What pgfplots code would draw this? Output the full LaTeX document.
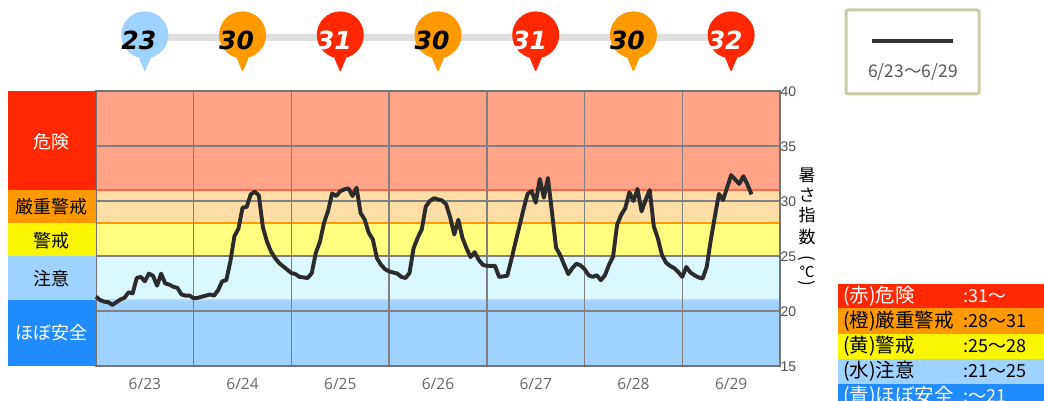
\documentclass[border=0pt]{standalone}
\usepackage{fontspec}
\usepackage{pgfplots}
\usepackage{pgfplotstable}
\pgfplotsset{compat=1.18}
\setmainfont{Noto Sans CJK JP}
\newfontfamily\numfont{Liberation Sans}
\newfontfamily\labfont{Open Sans}
\newfontfamily\pinfont[BoldFont={DejaVu Sans Bold Oblique}]{DejaVu Sans}
\newcommand{\fs}[1]{\fontsize{#1}{#1}\selectfont}
\definecolor{cR}{HTML}{FF2800}
\definecolor{cO}{HTML}{FF9900}
\definecolor{cY}{HTML}{FAF500}
\definecolor{cL}{HTML}{A0D2FF}
\definecolor{cB}{HTML}{218CFF}
\definecolor{bR}{HTML}{FFA488}
\definecolor{bO}{HTML}{FFDDA6}
\definecolor{bY}{HTML}{FFFF80}
\definecolor{bC}{HTML}{D9F8FF}
\definecolor{bB}{HTML}{A0D2FF}
\definecolor{boxc}{HTML}{CCCCAA}
\pgfdeclareplotmark{pin}{%
  \pgfpathcircle{\pgfqpoint{0pt}{0pt}}{23.5pt}\pgfusepathqfill
  \pgfpathmoveto{\pgfqpoint{-6pt}{-23pt}}%
  \pgfpathlineto{\pgfqpoint{6pt}{-23pt}}%
  \pgfpathlineto{\pgfqpoint{0.5pt}{-36pt}}%
  \pgfpathlineto{\pgfqpoint{-0.5pt}{-36pt}}%
  \pgfpathclose\pgfusepathqfill}
\pgfplotstableread{
h v
0 21.3
1 21.0
2 20.85
3 20.8
4 20.55
5 20.8
6 21.05
7 21.2
8 21.7
9 21.6
10 23.0
11 23.1
12 22.7
13 23.4
14 23.2
15 22.3
16 23.4
17 22.5
18 22.4
19 22.2
20 22.1
21 21.5
22 21.4
23 21.4
24 21.15
25 21.2
26 21.3
27 21.4
28 21.5
29 21.4
30 21.9
31 22.7
32 22.8
33 24.5
34 26.8
35 27.5
36 29.4
37 29.45
38 30.6
39 30.85
40 30.5
41 27.6
42 26.3
43 25.4
44 24.8
45 24.35
46 24.05
47 23.75
48 23.45
49 23.35
50 23.1
51 23.05
52 23.0
53 23.45
54 25.3
55 26.3
56 28.0
57 29.1
58 30.7
59 30.45
60 30.9
61 31.05
62 31.15
63 30.45
64 31.2
65 28.9
66 28.3
67 27.1
68 26.5
69 24.8
70 24.2
71 23.8
72 23.6
73 23.5
74 23.4
75 23.1
76 23.0
77 23.45
78 25.7
79 26.65
80 27.4
81 29.5
82 30.0
83 30.25
84 30.15
85 30.05
86 29.7
87 28.5
88 26.95
89 28.3
90 26.65
91 25.7
92 24.9
93 25.35
94 24.65
95 24.2
96 24.1
97 24.1
98 24.1
99 23.1
100 23.15
101 23.2
102 24.65
103 26.2
104 27.7
105 29.25
106 30.65
107 30.9
108 29.85
109 32.0
110 30.3
111 32.1
112 28.95
113 25.75
114 25.1
115 24.2
116 23.35
117 23.9
118 24.3
119 24.15
120 23.8
121 23.25
122 23.1
123 23.25
124 22.8
125 23.25
126 24.2
127 24.95
128 27.85
129 28.75
130 29.35
131 30.8
132 30.0
133 31.1
134 29.05
135 30.1
136 31.0
137 27.7
138 26.6
139 25.1
140 24.4
141 24.1
142 23.9
143 23.55
144 23.1
145 24.0
146 23.5
147 23.25
148 23.05
149 22.95
150 24.0
151 26.45
152 28.6
153 30.65
154 30.1
155 31.2
156 32.35
157 31.95
158 31.55
159 32.25
160 31.5
161 30.6
}\wbgt
\begin{document}
\begin{tikzpicture}[x=1pt,y=1pt]
\path (0,0) rectangle (1044,401);
% left colour column
\fill[cR] (8,211) rectangle (96,310);
\fill[cO] (8,178) rectangle (96,211);
\fill[cY] (8,145) rectangle (96,178);
\fill[cL] (8,101) rectangle (96,145);
\fill[cB] (8,35) rectangle (96,101);
\node[white] at (51,259) {\fs{18}危険};
\node[black] at (51,194) {\fs{18}厳重警戒};
\node[black] at (51,160) {\fs{18}警戒};
\node[black] at (51,122) {\fs{18}注意};
\node[white] at (51,68) {\fs{18}ほぼ安全};
\begin{axis}[
  at={(96pt,35pt)},anchor=south west,
  scale only axis,width=684pt,height=275pt,
  xmin=0,xmax=168,ymin=15,ymax=40,
  clip=false,set layers,
  y axis line style={draw=black!55,line width=1.2pt},
  x axis line style={draw=none},
  xtick={12,36,60,84,108,132,156},
  xticklabels={6/23,6/24,6/25,6/26,6/27,6/28,6/29},
  minor xtick={24,48,72,96,120,144},
  ytick={15,20,25,30,35,40},
  yticklabel pos=right,
  major tick length=0pt,minor tick length=0pt,
  xmajorgrids=false,xminorgrids=true,ymajorgrids=true,
  minor x grid style={draw=black!50,line width=1.3pt},
  major y grid style={draw=black!50,line width=1.3pt},
  /pgf/number format/assume math mode=true,
  xticklabel style={font=\labfont\fs{15.5},text=black!60,yshift=-9pt},
  yticklabel style={font=\numfont\fs{14},text=black!70,xshift=-3pt,yshift=-0.5pt},
]
\addplot[on layer=axis background,fill=bR,draw=none] coordinates {(0,31)(168,31)(168,40)(0,40)} --cycle;
\addplot[on layer=axis background,fill=bO,draw=none] coordinates {(0,28)(168,28)(168,31)(0,31)} --cycle;
\addplot[on layer=axis background,fill=bY,draw=none] coordinates {(0,25)(168,25)(168,28)(0,28)} --cycle;
\addplot[on layer=axis background,fill=bC,draw=none] coordinates {(0,21)(168,21)(168,25)(0,25)} --cycle;
\addplot[on layer=axis background,fill=bB,draw=none] coordinates {(0,15)(168,15)(168,21)(0,21)} --cycle;
\addplot[on layer=axis background,draw=cR!50!bR,line width=1.2pt] coordinates {(0,31)(168,31)};
\addplot[on layer=axis background,draw=cO,line width=1.2pt] coordinates {(0,28)(168,28)};
\addplot[on layer=axis background,draw=cY!90!black,line width=1.2pt] coordinates {(0,25)(168,25)};
\addplot[on layer=axis background,draw=cL!80!white,line width=1.2pt] coordinates {(0,21)(168,21)};
% hourly index
\addplot[draw=black!83,line width=3.9pt,line join=round,no markers] table[x=h,y=v] {\wbgt};
% daily maximum pins
\addplot[draw=black!13,line width=7pt,no markers] coordinates {(12,44.9)(156,44.9)};
\addplot[only marks,mark=pin,mark options={fill=cL,draw=none},point meta=explicit symbolic,
  nodes near coords={\pinfont\bfseries\fs{25}\pgfplotspointmeta},
  every node near coord/.style={anchor=center,xshift=-6pt,yshift=-5.5pt,text=black,inner sep=0pt}]
  coordinates {(12,45.1)[23]};
\addplot[only marks,mark=pin,mark options={fill=cO,draw=none},point meta=explicit symbolic,
  nodes near coords={\pinfont\bfseries\fs{25}\pgfplotspointmeta},
  every node near coord/.style={anchor=center,xshift=-6pt,yshift=-5.5pt,text=black,inner sep=0pt}]
  coordinates {(36,45.1)[30] (84,45.1)[30] (132,45.1)[30]};
\addplot[only marks,mark=pin,mark options={fill=cR,draw=none},point meta=explicit symbolic,
  nodes near coords={\pinfont\bfseries\fs{25}\pgfplotspointmeta},
  every node near coord/.style={anchor=center,xshift=-6pt,yshift=-5.5pt,text=white,inner sep=0pt}]
  coordinates {(60,45.1)[31] (108,45.1)[31] (156,45.1)[32]};
\end{axis}
% vertical axis title
\node at (807,226) {\fs{17}暑};
\node at (807,206) {\fs{17}さ};
\node at (807,186) {\fs{17}指};
\node at (807,164) {\fs{17}数};
\node[rotate=-90] at (807,143) {\fs{17}(};
\node at (807,129) {\fs{15}℃};
\node[rotate=-90] at (807,118) {\fs{17})};
% period legend
\draw[draw=boxc,line width=3pt,rounded corners=2pt,fill=white] (846,391) rectangle (979,307);
\draw[black!80,line width=4pt] (872,360) -- (953,360);
\node[text=black!65] at (913,329) {\fs{17.5}6/23～6/29};
% level legend
\fill[cR] (838,117) rectangle (1044,93);
\fill[cO] (838,93) rectangle (1044,67);
\fill[cY] (838,67) rectangle (1044,42);
\fill[cL] (838,42) rectangle (1044,17);
\fill[cB] (838,17) rectangle (1044,0);
\node[white,anchor=west,inner sep=0] at (843,105) {\fs{19.5}(赤)危険};
\node[white,anchor=west,inner sep=0] at (963,105) {\fs{18}:31～};
\node[black,anchor=west,inner sep=0] at (843,80) {\fs{19.5}(橙)厳重警戒};
\node[black,anchor=west,inner sep=0] at (963,80) {\fs{18}:28～31};
\node[black,anchor=west,inner sep=0] at (843,54.5) {\fs{19.5}(黄)警戒};
\node[black,anchor=west,inner sep=0] at (963,54.5) {\fs{18}:25～28};
\node[black,anchor=west,inner sep=0] at (843,29.5) {\fs{19.5}(水)注意};
\node[black,anchor=west,inner sep=0] at (963,29.5) {\fs{18}:21～25};
\begin{scope}
\clip (0,0) rectangle (1044,401);
\node[overlay,white,anchor=west,inner sep=0] at (843,4.5) {\fs{19.5}(青)ほぼ安全};
\node[overlay,white,anchor=west,inner sep=0] at (963,4.5) {\fs{18}:～21};
\end{scope}
\end{tikzpicture}
\end{document}
